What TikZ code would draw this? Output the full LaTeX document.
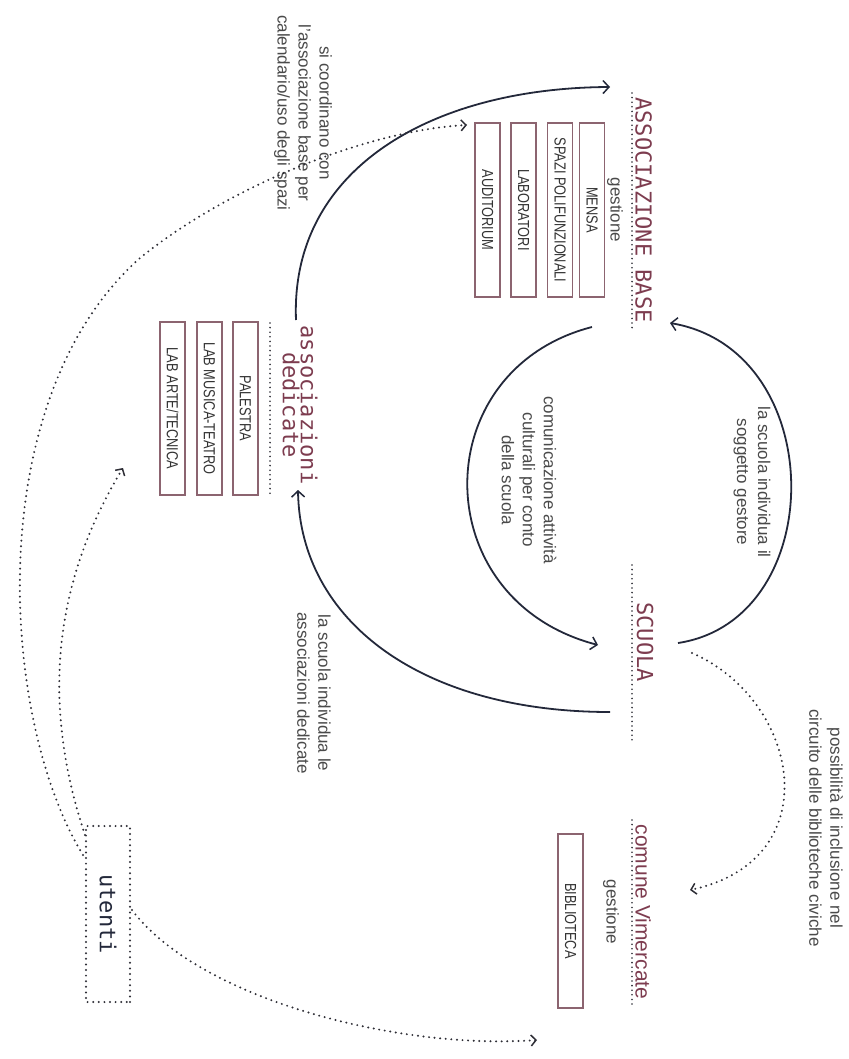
\documentclass[tikz,border=0pt]{standalone}
\usepackage{fontspec}
\setmainfont{Liberation Sans}
\newfontfamily\monof{DejaVu Sans Mono}
\newfontfamily\condf[FakeStretch=0.8]{Liberation Sans}
\usetikzlibrary{arrows.meta}
\definecolor{maroon}{HTML}{7D3C4F}
\definecolor{boxc}{HTML}{8C6470}
\definecolor{ink}{HTML}{23283A}
\definecolor{txt}{HTML}{4A4A4A}
\definecolor{dotc}{HTML}{2E2E36}
\begin{document}
\begin{tikzpicture}[x=1pt,y=-1pt,
  title/.style={font=\monof\fontsize{22}{17}\selectfont, text=maroon, rotate=-90, inner sep=0pt, align=center},
  note/.style={font=\fontsize{17}{21}\selectfont, text=txt, rotate=-90, inner sep=0pt, align=center},
  roombox/.style={draw=boxc, line width=1.2pt, rotate=-90, minimum width=174pt, minimum height=25pt, inner sep=0pt, font=\condf\fontsize{16}{16}\selectfont, text=black!80},
  solidarrow/.style={draw=ink, line width=1.8pt, -{Straight Barb[length=6pt,width=13pt,line width=1.5pt]}},
  dots/.style={draw=dotc, line width=2.2pt, dash pattern=on 0pt off 5.6pt, line cap=round},
  dotarrow/.style={dots, -{Straight Barb[length=5pt,width=11pt,line width=1.5pt]}},
  ruler/.style={draw=dotc, line width=1.8pt, dash pattern=on 0pt off 4.6pt, line cap=round},
]
\fill[white] (0,0) rectangle (848,1059);
\useasboundingbox (0,0) rectangle (848,1059);

% titles
\node[title] (ab) at (643.5,210) {ASSOCIAZIONE BASE};
\node[title] (sc) at (645,642) {SCUOLA};
\node[font=\fontsize{21}{21}\selectfont, text=maroon, rotate=-90, inner sep=0pt] (cv) at (643,912) {comune Vimercate};
\node[title] (ad) at (300,405) {associazioni\\dedicate};

% rulers under titles
\draw[ruler] (632,93) -- (632,328);
\draw[ruler] (632,565) -- (632,742);
\draw[ruler] (632,820) -- (632,1008);
\draw[ruler] (270,323) -- (270,497);

% gestione
\node[note] (g1) at (615,210) {gestione};
\node[note] (g2) at (611,912) {gestione};

% rooms
\node[roombox] (mensa) at (592,210) {MENSA};
\node[roombox] (spazi) at (560,210) {SPAZI POLIFUNZIONALI};
\node[roombox] (lab) at (523.5,210) {LABORATORI};
\node[roombox] (aud) at (487.5,210) {AUDITORIUM};
\node[roombox] (bib) at (570.5,921) {BIBLIOTECA};
\node[roombox, minimum width=173pt] (pal) at (245.5,408.5) {PALESTRA};
\node[roombox, minimum width=173pt] (mus) at (209.5,408.5) {LAB MUSICA-TEATRO};
\node[roombox, minimum width=173pt] (arte) at (172.5,408.5) {LAB ARTE/TECNICA};

% utenti
\node[dots, rotate=-90, minimum width=176pt, minimum height=44pt, inner sep=0pt,
      font=\monof\fontsize{22}{22}\selectfont, text=ink] (ut) at (108,914) {utenti};

% notes
\node[note] (n1) at (752,482) {la scuola individua il\\soggetto gestore};
\node[note] (n2) at (529,480) {comunicazione attività\\culturali per conto\\della scuola};
\node[note] (n3) at (314,693) {la scuola individua le\\associazioni dedicate};
\node[note] (n4) at (303,113) {si coordinano con\\l’associazione base per\\calendario/uso degli spazi};
\node[note] (n5) at (826,828) {possibilità di inclusione nel\\circuito delle biblioteche civiche};

% connector end points
\coordinate (adTop) at (296,320);
\coordinate (abIn) at (610,87);
\coordinate (scRight) at (678,643);
\coordinate (abRight) at (670,323);
\coordinate (abLeft) at (592,327);
\coordinate (scIn) at (598,645);
\coordinate (scLow) at (610,712);
\coordinate (adIn) at (298,490);
\coordinate (scDot) at (692,653);
\coordinate (cvIn) at (690,890);
\coordinate (utA) at (83,855);
\coordinate (utB) at (85,835);
\coordinate (utC) at (132,910);
\coordinate (audIn) at (467,125);
\coordinate (adDot) at (123,468);
\coordinate (bibIn) at (537,1040);
\coordinate (bend) at (140,258);

% solid connectors
\draw[solidarrow] (adTop) .. controls (290,170) and (430,88) .. (abIn);
\draw[solidarrow] (scRight) .. controls (830,620) and (830,350) .. (abRight);
\draw[solidarrow] (abLeft) .. controls (425,370) and (425,600) .. (scIn);
\draw[solidarrow] (scLow) .. controls (420,712) and (300,620) .. (adIn);

% dotted connectors
\draw[dotarrow] (scDot) .. controls (800,700) and (830,860) .. (cvIn);
\draw[dotarrow] (utA) .. controls (0,720) and (-20,400) .. (bend) .. controls (230,185) and (370,130) .. (audIn);
\draw[dotarrow] (utB) .. controls (40,700) and (55,580) .. (adDot);
\draw[dotarrow] (utC) .. controls (200,1000) and (400,1050) .. (bibIn);
\end{tikzpicture}
\end{document}
